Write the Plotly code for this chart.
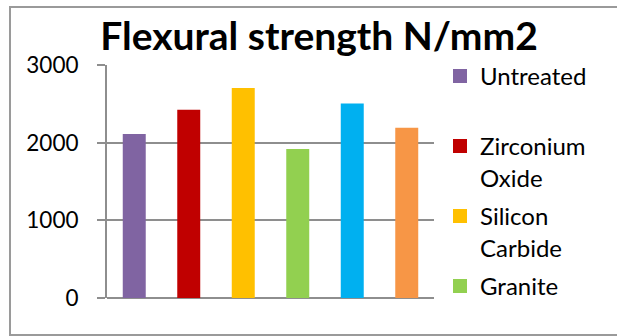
import plotly.graph_objects as go

# Flexural strength of each material (N/mm2)
materials = ["Untreated", "Zirconium Oxide", "Silicon Carbide", "Granite", "Series 5", "Series 6"]
strength = [2100, 2410, 2690, 1905, 2490, 2180]
in_legend = [True, True, True, True, False, False]
bar_colors = ["#8064A2", "#C00000", "#FFC000", "#92D050", "#00B0F0", "#F79646"]
y_ticks = [0, 1000, 2000, 3000]
chart_title = "Flexural strength N/mm2"

W, H = 617, 336
L, R, T, B = 107, 183, 65, 38
plot_w, plot_h = W - L - R, H - T - B
GRID = "#8e8e8e"
FONT = "Lato"
LEG_SIZE = 24


def legend_label(name):
    # two-line legend entries, single words get an empty second line
    parts = name.split(" ", 1)
    return parts[0] + "<br>" + (parts[1] if len(parts) > 1 else "\u00a0")


fig = go.Figure()
for i, (name, val, col, show) in enumerate(zip(materials, strength, bar_colors, in_legend)):
    fig.add_trace(go.Bar(
        x=[name], y=[val],
        name=legend_label(name),
        legendgroup=f"g{i}",
        showlegend=show,
        marker=dict(color=col, line=dict(color=col, width=2)),
        hovertemplate=name + ": %{y}<extra></extra>",
    ))


def px_x(px):
    return (px - L) / plot_w


def px_y(py):
    return (H - B - py) / plot_h


# spacing between legend entries: 70 px per two-line entry
item_h = 2 * LEG_SIZE * 1.3 + 3
group_gap = 70 - item_h

# chart frame: left, top and bottom edges (open on the right)
fx0, fx1 = px_x(10), px_x(617)
fy0, fy1 = px_y(335), px_y(7)
frame_path = f"M {fx1} {fy1} L {fx0} {fy1} L {fx0} {fy0} L {fx1} {fy0}"

fig.update_layout(
    width=W, height=H,
    margin=dict(l=L, r=R, t=T, b=B, autoexpand=False),
    paper_bgcolor="white", plot_bgcolor="white",
    barmode="relative", bargap=0.615,
    font=dict(family=FONT, color="black"),
    title=dict(
        text="<b>" + chart_title + "</b>",
        font=dict(family=FONT, size=39, color="black"),
        x=319 / W, xref="container", xanchor="center",
        y=1 - 36 / H, yref="container", yanchor="middle",
    ),
    showlegend=True,
    legend=dict(
        x=px_x(440), xanchor="left",
        y=px_y(54), yanchor="top",
        maxheight=320,
        font=dict(family=FONT, size=LEG_SIZE, color="black"),
        traceorder="grouped", tracegroupgap=group_gap,
        valign="top", bgcolor="rgba(0,0,0,0)",
    ),
    xaxis=dict(
        showticklabels=False, ticks="", showgrid=False, zeroline=False,
        showline=False, categoryorder="array", categoryarray=materials,
    ),
    yaxis=dict(
        range=[0, 3000], tickvals=y_ticks, ticktext=[str(v) for v in y_ticks],
        showgrid=True, gridcolor=GRID, gridwidth=2,
        zeroline=True, zerolinecolor=GRID, zerolinewidth=2,
        showline=True, linecolor=GRID, linewidth=2,
        ticks="outside", ticklen=8, tickwidth=2, tickcolor=GRID,
        ticklabelstandoff=14,
        tickfont=dict(family=FONT, size=22.5, color="black"),
        fixedrange=True,
    ),
    shapes=[dict(
        type="path", xref="paper", yref="paper", path=frame_path,
        line=dict(color="#9a9a9a", width=2), fillcolor="rgba(0,0,0,0)",
        layer="below",
    )],
)

fig.write_html("out.html")
